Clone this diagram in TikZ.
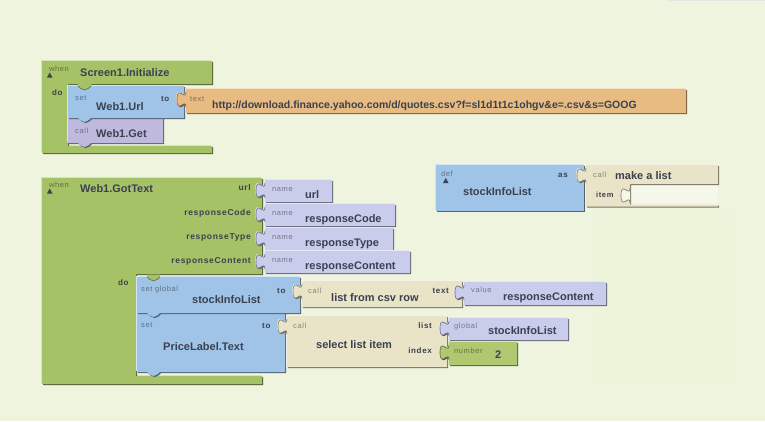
\documentclass[tikz,border=0pt]{standalone}
\usepackage{fontspec}
\setmainfont{Liberation Sans}
\newfontfamily\lblfont[LetterSpace=8]{Liberation Sans}

\definecolor{bg}{RGB}{239,244,222}
\definecolor{panel}{RGB}{236,244,217}
\definecolor{hole}{RGB}{244,247,233}
\definecolor{evgreen}{RGB}{166,194,102}
\definecolor{setblue}{RGB}{160,195,232}
\definecolor{strorange}{RGB}{231,187,130}
\definecolor{callpurple}{RGB}{192,185,222}
\definecolor{namelav}{RGB}{201,204,234}
\definecolor{listtan}{RGB}{233,227,199}
\definecolor{numgreen}{RGB}{176,200,112}
\definecolor{ink}{RGB}{58,65,80}

% block body with a light upper-left rim and a dark lower-right rim
\newcommand\bevel[2]{%
  \fill[#1!45!white,shift={(-0.8,-0.8)}] #2;
  \fill[#1!50!black,shift={(1.1,1.1)}] #2;
  \fill[#1] #2;}

% value block with a puzzle plug on its left edge: x, y, width, height, colour
\newcommand\valblk[5]{%
  \begin{scope}[shift={(#1,#2)}]
    \bevel{#5}{(0,0) -- (#3,0) -- (#3,#4) -- (0,#4) -- (0,18) .. controls (0,8) and (-9,26) .. (-9,10.5) .. controls (-9,-5) and (0,13) .. (0,3) -- cycle}
    \draw[#5!50!black,line width=0.6pt] (0,18) .. controls (0,8) and (-9,26) .. (-9,10.5) .. controls (-9,-5) and (0,13) .. (0,3);
  \end{scope}}

% statement block with a small tab under its lower edge: x, y, width, height, colour
\newcommand\stmtblk[5]{%
  \begin{scope}[shift={(#1,#2)}]
    \bevel{#5}{(0,0) -- (#3,0) -- (#3,#4) -- (23,#4) .. controls (21,#4+1) and (20,#4+4) .. (16.5,#4+4) .. controls (13,#4+4) and (12,#4+1) .. (10,#4) -- (0,#4) -- cycle}
  \end{scope}}

% tab hanging from the arm of a C-shaped block: x, y, colour
\newcommand\armtab[3]{%
  \begin{scope}[shift={(#1,#2)}]
    \fill[#3] (10,-2.5) -- (23,-2.5) -- (23,0) .. controls (21,1) and (20,4) .. (16.5,4) .. controls (13,4) and (12,1) .. (10,0) -- cycle;
    \draw[#3!50!black,line width=0.5pt] (23,0) .. controls (21,1) and (20,4) .. (16.5,4) .. controls (13,4) and (12,1) .. (10,0);
  \end{scope}}

\tikzset{
  lbl/.style={font=\lblfont\fontsize{7.5}{8}\selectfont, text=black, text opacity=0.42, inner sep=0, anchor=base west},
  key/.style={font=\lblfont\bfseries\fontsize{8}{9}\selectfont, text=ink, inner sep=0},
  arg/.style={font=\lblfont\bfseries\fontsize{8.5}{9}\selectfont, text=ink, inner sep=0, anchor=base east},
  title/.style={font=\bfseries\fontsize{11}{12}\selectfont, text=ink, inner sep=0, anchor=base west},
  collapse/.style={fill=ink},
}

\begin{document}
\begin{tikzpicture}[x=1pt,y=-1pt]
\useasboundingbox (0,0) rectangle (765,421);
\fill[bg] (0,0) rectangle (765,421);
\fill[panel] (596,212) rectangle (732,385);
\draw[black!10,line width=0.8pt] (668,0.5) -- (765,0.5);

% ---------- when Screen1.Initialize ----------
\bevel{evgreen}{(42,61) -- (212,61) -- (212,84) -- (68,84) -- (68,146) -- (212,146) -- (212,153) -- (42,153) -- cycle}
\stmtblk{68}{118}{95}{25}{callpurple}
\stmtblk{68}{86}{116}{32}{setblue}
\armtab{68}{86}{evgreen}
\valblk{186}{89}{500}{24}{strorange}

\node[lbl] (w1) at (49,71) {when};
\fill[collapse] (47,77.5) -- (52.5,77.5) -- (49.75,72.5) -- cycle;
\node[key,anchor=base west] (do1) at (52,95) {do};
\node[title] (init) at (80,76) {Screen1.Initialize};
\node[lbl] (set1) at (75,100) {set};
\node[title] (url) at (96,110) {Web1.Url};
\node[key,anchor=base west] (to1) at (161,101) {to};
\node[lbl] (txt1) at (190,101) {text};
\node[title,font=\bfseries\fontsize{10.5}{12}\selectfont] (addr) at (212,108) {http://download.finance.yahoo.com/d/quotes.csv?f=sl1d1t1c1ohgv\&e=.csv\&s=GOOG};
\node[lbl] (call1) at (75,133) {call};
\node[title] (get) at (96,137) {Web1.Get};

% ---------- when Web1.GotText ----------
\bevel{evgreen}{(42,178) -- (262,178) -- (262,274) -- (136,274) -- (136,376) -- (262,376) -- (262,384) -- (42,384) -- cycle}
\stmtblk{137}{313}{148}{59}{setblue}
\stmtblk{137}{277}{163}{36}{setblue}
\armtab{137}{277}{evgreen}

\valblk{265}{180}{67}{22}{namelav}
\valblk{265}{204}{130}{22}{namelav}
\valblk{265}{228}{128}{22}{namelav}
\valblk{265}{251}{145}{22}{namelav}

\valblk{302}{281}{160}{26}{listtan}
\valblk{464}{282}{142}{23}{namelav}
\valblk{287}{316}{160}{51}{listtan}
\valblk{449}{318}{119}{22}{namelav}
\valblk{449}{342}{68}{23}{numgreen}

\node[lbl] (w2) at (49,187) {when};
\fill[collapse] (47,193.5) -- (52.5,193.5) -- (49.75,188.5) -- cycle;
\node[title] (gottext) at (80,192) {Web1.GotText};
\node[arg] (aurl) at (251,190) {url};
\node[arg] (acode) at (251,215) {responseCode};
\node[arg] (atype) at (251,239) {responseType};
\node[arg] (acont) at (251,263) {responseContent};
\node[lbl] (n1) at (272,191) {name};
\node[title] (v1) at (305,198) {url};
\node[lbl] (n2) at (272,215) {name};
\node[title] (v2) at (305,222) {responseCode};
\node[lbl] (n3) at (272,239) {name};
\node[title] (v3) at (305,246) {responseType};
\node[lbl] (n4) at (272,262) {name};
\node[title] (v4) at (305,269) {responseContent};
\node[key,anchor=base west] (do2) at (118,285) {do};

\node[lbl] (sg) at (141,291) {set global};
\node[title] (sil1) at (192,303) {stockInfoList};
\node[key,anchor=base west] (to2) at (277,293) {to};
\node[lbl] (call2) at (308,293) {call};
\node[title] (csv) at (331,301) {list from csv row};
\node[key,anchor=base east] (txt2) at (449,293) {text};
\node[lbl] (val) at (471,292) {value};
\node[title] (rc) at (503,300) {responseContent};

\node[lbl] (set3) at (141,327) {set};
\node[title] (plt) at (163,350) {PriceLabel.Text};
\node[key,anchor=base west] (to3) at (262,328) {to};
\node[lbl] (call3) at (293,328) {call};
\node[title] (sli) at (316,348) {select list item};
\node[key,anchor=base east] (lst) at (432,328) {list};
\node[key,anchor=base east] (idx) at (432,353) {index};
\node[lbl] (glb) at (454,328) {global};
\node[title] (sil2) at (488,334) {stockInfoList};
\node[lbl] (num) at (454,353) {number};
\node[title] (two) at (495,358) {2};

% ---------- def stockInfoList ----------
\bevel{setblue}{(436,165) -- (584,165) -- (584,211) -- (436,211) -- cycle}
\begin{scope}[shift={(586,165)}]
  \fill[hole] (44,19) rectangle (132,39.5);
  \bevel{listtan}{(0,0) -- (132,0) -- (132,19) -- (44,19) -- (44,39.5) -- (132,39.5) -- (132,41.5) -- (0,41.5) -- (0,18) .. controls (0,8) and (-9,26) .. (-9,10.5) .. controls (-9,-5) and (0,13) .. (0,3) -- cycle}
  \draw[listtan!50!black,line width=0.6pt] (0,18) .. controls (0,8) and (-9,26) .. (-9,10.5) .. controls (-9,-5) and (0,13) .. (0,3);
  % empty item socket
  \begin{scope}[shift={(44,20)}]
    \fill[hole] (0,18) .. controls (0,8) and (-9,26) .. (-9,10.5) .. controls (-9,-5) and (0,13) .. (0,3) -- cycle;
    \draw[listtan!50!black,line width=0.6pt] (0,18) .. controls (0,8) and (-9,26) .. (-9,10.5) .. controls (-9,-5) and (0,13) .. (0,3);
  \end{scope}
\end{scope}

\node[lbl] (def) at (441,176) {def};
\fill[collapse] (443,183) -- (448.5,183) -- (445.75,178) -- cycle;
\node[title] (sil0) at (463,195) {stockInfoList};
\node[key,anchor=base west] (as) at (558,177) {as};
\node[lbl] (call4) at (593,177) {call};
\node[title] (mal) at (615,179) {make a list};
\node[key,anchor=base west,font=\lblfont\bfseries\fontsize{7.5}{8}\selectfont] (item) at (596,197) {item};
\end{tikzpicture}
\end{document}
